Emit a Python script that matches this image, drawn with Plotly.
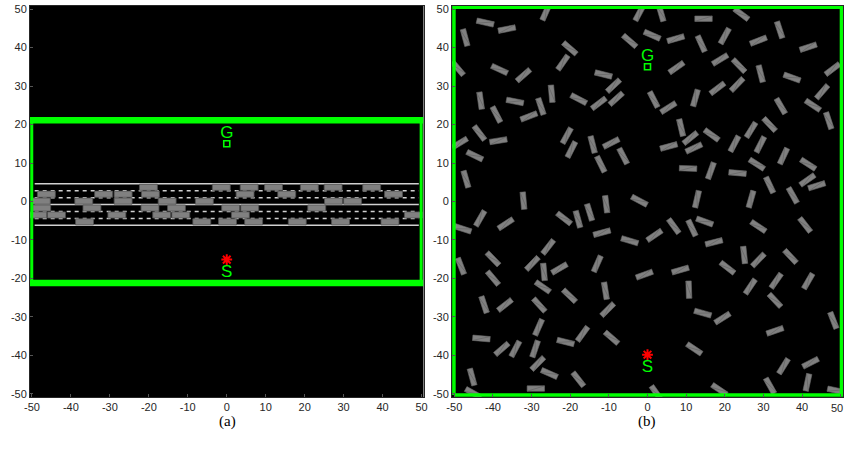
import numpy as np
import plotly.graph_objects as go

# ---------------- data ----------------
ticks = [-50, -40, -30, -20, -10, 0, 10, 20, 30, 40, 50]

# (a) highway scene
lane_y = [3.7, 1.9, 0.1, -1.7, -3.5, -5.3]
car_x = [
    [-20.1, -1.4, 5.75, 12.0, 21.2, 27.3, 37.2],
    [-46.3, -31.6, -26.6, -19.6, 4.7, 15.4, 42.8],
    [-47.6, -36.7, -26.6, -15.3, -5.75, 27.4, 32.3],
    [-47.5, -34.6, -19.7, -12.9, 1.0, 5.9, 23.1],
    [-48.5, -43.7, -28.2, -16.7, -11.8, 3.5, 47.9],
    [-36.5, -6.4, 0.2, 6.9, 18.1, 29.2, 41.9],
]
road_lines_y = [4.6, 2.8, 1.0, -0.8, -2.6, -4.4, -6.2]
road_lines_dashed = [False, True, True, False, True, True, False]

goal_a = (0, 15.0)
start_a = (0, -15.1)

# (b) cluttered scene: obstacle centres and orientations (deg)
obs_x = [-26.3, -42.0, -36.4, -47.2, -20.1, -49.1, -38.3, -32.1, -21.9, -11.4,
         -8.8, -8.1, -12.6, -17.8, -24.8, -27.6, -34.3, -43.2, -39.1, -30.7,
         -43.5, -48.6, -38.6, -44.7, -20.9, -19.7, -14.2, -9.4, -6.3, -12.1,
         -47.0, -32.1, -2.1, -10.7, -15.0, -2.1, -4.6, 1.2, 1.6, 3.5,
         14.5, 24.3, 7.3, 13.9, 20.0, 28.7, 34.2, 41.6, 7.5, 18.8,
         23.7, 29.3, 37.4, 47.9, 18.1, 23.2, 12.4, 5.4, 34.5, 42.8,
         45.2, 46.9, 8.7, 11.1, 16.6, 26.8, 31.6, 5.5, 12.0, 22.5,
         29.2, 35.2, 41.6, 28.3, 10.5, 16.4, 23.3, 41.4, 43.8, 31.6,
         37.6, 12.8, 26.8, 1.8, 6.8, 11.5, 14.8, 17.2, 28.7, 40.8,
         25.0, 28.7, 37.0, 20.7, -0.8, 8.5, 10.7, 26.6, 33.3, 41.6,
         33.0, 14.3, 19.4, 33.0, 48.1, 12.1, 35.2, 42.2, 41.4, 31.7,
         18.6, 48.8, 2.3, -43.3, -47.8, -36.7, -21.6, -18.0, -11.8, -4.6,
         -25.7, -40.0, -48.3, -29.8, -26.8, -22.8, -13.0, -40.0, -27.1, -10.9,
         -20.2, -42.3, -36.9, -28.0, -10.3, -28.2, -43.0, -37.7, -34.2, -29.1,
         -21.2, -16.8, -9.3, -28.4, -25.4, -45.4, -17.9, -45.1, -28.9]
obs_y = [49.2, 46.5, 44.8, 42.6, 39.8, 34.6, 34.3, 32.8, 36.1, 33.0,
         30.1, 26.7, 25.5, 26.6, 28.0, 24.7, 26.0, 26.2, 22.6, 22.1,
         17.8, 15.2, 15.8, 11.9, 17.1, 13.5, 14.8, 15.2, 11.8, 9.7,
         5.8, 0.2, 0.2, -0.7, -2.8, 49.0, 41.7, 43.2, 26.5, 49.0,
         47.5, 48.7, 42.3, 41.0, 43.0, 41.8, 44.6, 40.1, 34.8, 36.9,
         35.3, 33.2, 32.2, 34.4, 29.4, 30.4, 26.9, 24.4, 24.8, 25.0,
         28.5, 21.0, 19.2, 16.5, 17.3, 18.6, 20.0, 14.3, 13.9, 15.0,
         14.8, 11.8, 9.7, 9.7, 8.6, 8.0, 7.4, 5.6, 4.1, 4.3,
         1.6, 0.6, 0.6, -8.8, -6.4, -6.9, -5.2, -10.6, -6.5, -6.1,
         -13.9, -15.2, -14.3, -17.2, -19.0, -17.8, -22.9, -22.1, -20.6, -20.7,
         -25.7, -29.0, -30.3, -33.6, -30.9, -38.3, -42.8, -41.9, -47.0, -47.9,
         -48.9, -49.1, -49.8, -4.4, -7.1, -5.8, -4.4, -4.6, -8.1, -10.2,
         -11.8, -14.9, -16.8, -16.1, -18.3, -17.4, -16.2, -19.9, -22.2, -23.2,
         -24.5, -26.8, -26.9, -26.9, -28.1, -32.7, -35.6, -38.3, -38.3, -38.3,
         -36.5, -34.4, -35.4, -42.1, -44.7, -45.6, -46.2, -49.8, -48.6]
obs_ang = [66, -13, 11, 105, -41, -50, -25, 41, 55, -14,
           43, 42, 37, -28, 95, 108, -11, 98, 117, 21,
           127, 31, 9, -26, 61, 63, 104, 27, 117, 116,
           106, 95, -28, 97, 107, 62, -41, -24, 117, 106,
           0, -37, 16, 114, 61, 21, 108, 18, 35, 31,
           -46, 104, -20, 37, 37, 46, 74, 32, 120, -34,
           49, 108, 103, 39, -36, 58, -47, 15, 25, 62,
           63, 65, -33, -33, -2, 70, -5, 35, 17, 115,
           119, 77, 74, 34, -54, 115, -20, 14, -34, -52,
           96, 46, -47, -38, 20, 16, 92, 56, 55, 60,
           -47, -16, 32, 19, 111, -34, 58, 27, 78, 119,
           -34, -12, -55, 60, -18, 33, -38, 105, 15, -17,
           52, -46, 111, 46, 95, 30, 66, -50, -35, 99,
           -44, 108, 38, -48, 45, 66, -5, 41, 62, 71,
           -14, 54, -41, 45, -24, 105, -52, -29, 0]

goal_b = (0, 35.0)
start_b = (0, -39.8)

# ---------------- helpers ----------------
def rect_path(cx, cy, L, W, ang):
    a = np.deg2rad(ang)
    u = np.array([np.cos(a), np.sin(a)])
    v = np.array([-np.sin(a), np.cos(a)])
    c = np.array([cx, cy])
    pts = [c + s * L / 2 * u + t * W / 2 * v for s, t in [(-1, -1), (1, -1), (1, 1), (-1, 1), (-1, -1)]]
    return [p[0] for p in pts], [p[1] for p in pts]

GREEN = "#00ff00"
GRAY = "#808080"
EDGE = "#505050"

fig = go.Figure()

# ---------------- (a) ----------------
for yl, dashed in zip(road_lines_y, road_lines_dashed):
    fig.add_trace(go.Scatter(x=[-49.3, 49.3], y=[yl, yl], mode="lines",
                             line=dict(color="#d0d0d0", width=1.5, dash="4px,4px" if dashed else "solid"),
                             xaxis="x", yaxis="y", hoverinfo="skip", showlegend=False))
cx_all, cy_all = [], []
for ly, xs in zip(lane_y, car_x):
    for xc in xs:
        px, py = rect_path(xc, ly, 4.6, 1.6, 0)
        cx_all += px + [None]
        cy_all += py + [None]
fig.add_trace(go.Scatter(x=cx_all, y=cy_all, mode="lines", fill="toself", fillcolor=GRAY,
                         line=dict(color=EDGE, width=0.8), xaxis="x", yaxis="y",
                         hoverinfo="skip", showlegend=False))
for yw in [21.1, -21.2]:
    fig.add_trace(go.Scatter(x=[-50.5, 50.5], y=[yw, yw], mode="lines",
                             line=dict(color=GREEN, width=6.5), xaxis="x", yaxis="y",
                             hoverinfo="skip", showlegend=False))
for xw in [-50.05, 49.9]:
    fig.add_trace(go.Scatter(x=[xw, xw], y=[-20.4, 20.4], mode="lines",
                             line=dict(color=GREEN, width=3), xaxis="x", yaxis="y",
                             hoverinfo="skip", showlegend=False))

# ---------------- (b) ----------------
ox, oy, dx, dy = [], [], [], []
for xc, yc, an in zip(obs_x, obs_y, obs_ang):
    px, py = rect_path(xc, yc, 4.5, 1.4, an)
    ox += px + [None]
    oy += py + [None]
    dx += [px[0], px[2], None]
    dy += [py[0], py[2], None]
fig.add_trace(go.Scatter(x=ox, y=oy, mode="lines", fill="toself", fillcolor=GRAY,
                         line=dict(color="#6a6a6a", width=0.6), xaxis="x2", yaxis="y2",
                         hoverinfo="skip", showlegend=False))
fig.add_trace(go.Scatter(x=dx, y=dy, mode="lines", line=dict(color="#5e5e5e", width=0.6),
                         xaxis="x2", yaxis="y2", hoverinfo="skip", showlegend=False))
fig.add_trace(go.Scatter(x=[-50.1, 50.2, 50.2, -50.1, -50.1], y=[-50.3, -50.3, 50.5, 50.5, -50.3],
                         mode="lines", line=dict(color=GREEN, width=3.5), xaxis="x2", yaxis="y2",
                         hoverinfo="skip", showlegend=False))

# ---------------- goal / start markers ----------------
for (g, s, xa, ya) in [(goal_a, start_a, "x", "y"), (goal_b, start_b, "x2", "y2")]:
    fig.add_trace(go.Scatter(x=[g[0]], y=[g[1]], mode="markers",
                             marker=dict(symbol="square-open", size=6, color=GREEN, line=dict(width=1.6, color=GREEN)),
                             xaxis=xa, yaxis=ya, hoverinfo="skip", showlegend=False))
    fig.add_trace(go.Scatter(x=[g[0]], y=[g[1] + 2.7], mode="text", text=["G"],
                             textfont=dict(color=GREEN, size=17, family="Liberation Sans"),
                             xaxis=xa, yaxis=ya, hoverinfo="skip", showlegend=False))
    fig.add_trace(go.Scatter(x=[s[0]], y=[s[1]], mode="markers",
                             marker=dict(symbol="asterisk-open", size=9, color="red", line=dict(width=2, color="red")),
                             xaxis=xa, yaxis=ya, hoverinfo="skip", showlegend=False))
    fig.add_trace(go.Scatter(x=[s[0]], y=[s[1] - 3.3], mode="text", text=["S"],
                             textfont=dict(color=GREEN, size=17, family="Liberation Sans"),
                             xaxis=xa, yaxis=ya, hoverinfo="skip", showlegend=False))

TICKFONT = dict(family="Liberation Sans", size=11, color="#262626")
axis_common = dict(tickmode="array", tickvals=ticks,
                   showgrid=False, zeroline=False, ticks="inside", ticklen=3, tickcolor="#555",
                   tickfont=TICKFONT,
                   showline=True, linecolor="#262626", linewidth=1, mirror=True,
                   automargin=False, ticklabeloverflow="allow")
labels_full = [str(t) for t in ticks]
labels_b_x = labels_full[:-1] + [""]   # last label placed as annotation so it stays inside the page

W_TOT = 844 - 30 - 1
fig.update_layout(
    width=844, height=449,
    margin=dict(l=30, r=1, t=6, b=51.5, autoexpand=False),
    paper_bgcolor="white", plot_bgcolor="black",
    xaxis=dict(domain=[0, 393.5 / W_TOT], range=[-50.5, 50.5], anchor="y", ticktext=labels_full, **axis_common),
    yaxis=dict(domain=[0, 1], range=[-50.8, 50.8], anchor="x", ticktext=labels_full, **axis_common),
    xaxis2=dict(domain=[(452 - 30) / W_TOT, 1], range=[-50.6, 50.6], anchor="y2", ticktext=labels_b_x, **axis_common),
    yaxis2=dict(domain=[0, 1], range=[-50.8, 50.8], anchor="x2", ticktext=labels_full, **axis_common),
    annotations=[
        dict(text="(a)", x=(227 - 30) / W_TOT, y=-24.5 / 391.5, xref="paper", yref="paper",
             showarrow=False, font=dict(family="Liberation Serif", size=15, color="black"),
             xanchor="center", yanchor="middle"),
        dict(text="(b)", x=(647 - 30) / W_TOT, y=-24.5 / 391.5, xref="paper", yref="paper",
             showarrow=False, font=dict(family="Liberation Serif", size=15, color="black"),
             xanchor="center", yanchor="middle"),
        dict(text=labels_full[-1], x=(843.5 - 30) / W_TOT, y=-4 / 391.5, xref="paper", yref="paper",
             showarrow=False, font=TICKFONT, xanchor="right", yanchor="top",
             borderpad=0, xshift=0),
    ],
)

fig.write_html("out.html", config={"displayModeBar": False},
               post_script="document.body.style.margin='0';document.body.style.overflow='hidden';")
